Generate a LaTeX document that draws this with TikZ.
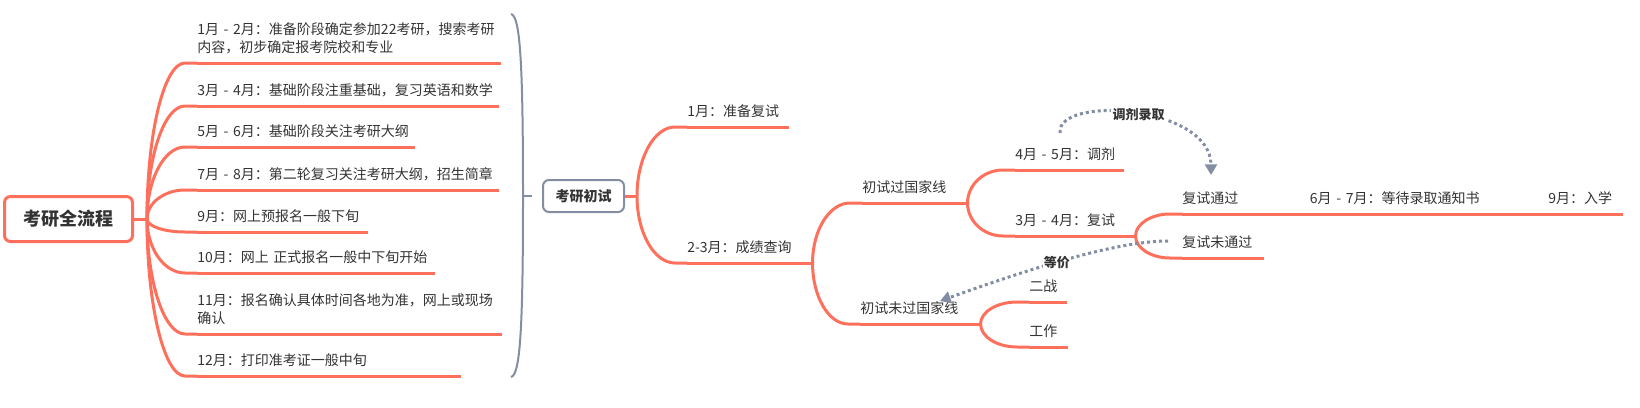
\documentclass[tikz,border=0pt]{standalone}
\usepackage{fontspec}
\setmainfont{Noto Sans CJK SC}
\usepackage{xcolor}
\definecolor{coral}{RGB}{255, 112, 92}
\definecolor{slate}{RGB}{131, 142, 162}
\definecolor{ink}{RGB}{51, 51, 51}
\usepackage{tikz}
\usetikzlibrary{arrows.meta,positioning,calc}

\begin{document}
\begin{tikzpicture}[
  x=0.75pt, y=-0.75pt,
  rootbox/.style={draw=coral, fill=white, rounded corners=4.5pt, line width=2.25pt, minimum width=96pt, minimum height=33.75pt, text=ink, font=\fontsize{13.5}{16}\selectfont\bfseries},
  summbox/.style={draw=slate, fill=white, rounded corners=4.5pt, line width=1.5pt, minimum width=60.75pt, minimum height=24pt, text=ink, font=\fontsize{10.5}{13}\selectfont\bfseries},
  topic/.style={anchor=south west, inner xsep=0pt, inner ysep=4pt, align=left, text=ink, font=\fontsize{10.5}{13.5}\selectfont, execute at end node=\strut},
  underline/.style={line width=2.25pt, draw=coral},
  stub/.style={line width=2.25pt, draw=coral},
  branch/.style={line width=2.25pt, draw=coral, to path={.. controls ($(\tikztostart)!0.55!(\tikztostart|-\tikztotarget)$) and ($0.45*(\tikztotarget)+0.55*(\tikztostart|-\tikztotarget)+(-5.4,0)$) .. ($(\tikztotarget)+(-12,0)$) -- (\tikztotarget)}},
  brace/.style={draw=slate, line width=1.5pt},
  relation/.style={draw=slate, line width=2.25pt, dash pattern=on 2.25pt off 2.25pt, -{Triangle[length=8pt, width=9pt]}},
  rellabel/.style={fill=white, inner sep=1pt, text=ink, font=\fontsize{9.75}{12}\selectfont\bfseries}
]
\useasboundingbox (0,0) rectangle (1640,407);

% root and the year plan
\node[rootbox] (root) at (68.5,219) {考研全流程};
\coordinate (J0) at (147,219);
\node[topic, text width=227.25pt] (plan1) at (197,63) {1月 - 2月：准备阶段确定参加22考研，搜索考研\\内容，初步确定报考院校和专业};
\node[topic, text width=225.75pt] (plan2) at (197,106) {3月 - 4月：基础阶段注重基础，复习英语和数学};
\node[topic, text width=162.75pt] (plan3) at (197,147) {5月 - 6月：基础阶段关注考研大纲};
\node[topic, text width=225.75pt] (plan4) at (197,190) {7月 - 8月：第二轮复习关注考研大纲，招生简章};
\node[topic, text width=127.5pt] (plan5) at (197,232) {9月：网上预报名一般下旬};
\node[topic, text width=177.75pt] (plan6) at (197,273) {10月：网上 正式报名一般中下旬开始};
\node[topic, text width=228pt] (plan7) at (197,334) {11月：报名确认具体时间各地为准，网上或现场\\确认};
\node[topic, text width=197.25pt] (plan8) at (197,376) {12月：打印准考证一般中旬};

\draw[stub] (root.east) -- (J0);
\foreach \p in {plan1,plan2,plan3,plan4,plan5,plan6,plan7,plan8}
  \draw[branch] (J0) to (\p.south west);

% summary brace
\draw[brace] (511,14) .. controls (520,16) and (523,60) .. (523,196) coordinate (bmid)
  .. controls (523,332) and (520,375) .. (511,377);
\node[summbox] (chushi) at (583.5,196) {考研初试};
\coordinate (btick) at ($(chushi.west)+(-10,0)$);
\draw[brace] (bmid) -- (btick);

% after the first exam
\coordinate (J1) at ($(chushi.east)+(12,0)$);
\node[topic, text width=75.75pt] (prep) at (687,127) {1月：准备复试};
\node[topic, text width=93.75pt] (score) at (687,263) {2-3月：成绩查询};
\node[topic, text width=78.75pt] (pass) at (862,203) {初试过国家线};
\node[topic, text width=90pt] (fail) at (860,324) {初试未过国家线};
\node[topic, text width=81pt] (adjust) at (1015,170) {4月 - 5月：调剂};
\node[topic, text width=90pt] (retest) at (1015,236) {3月 - 4月：复试};
\node[topic, text width=86.25pt] (rpass) at (1182,214) {复试通过};
\node[topic, text width=169.5pt, right=9pt of rpass.south east, anchor=south west] (notice) {6月 - 7月：等待录取通知书};
\node[topic, text width=55.5pt, right=9pt of notice.south east, anchor=south west] (enroll) {9月：入学};
\node[topic, text width=60.75pt] (rfail) at (1182,258) {复试未通过};
\node[topic, text width=27.75pt] (again) at (1029,302) {二战};
\node[topic, text width=28.5pt] (job) at (1029,347) {工作};

\draw[stub] (chushi.east) -- (J1);
\draw[branch] (J1) to (prep.south west);
\draw[branch] (J1) to (score.south west);
\draw[branch] (score.south east) to (pass.south west);
\draw[branch] (score.south east) to (fail.south west);
\draw[branch] (pass.south east) to (adjust.south west);
\draw[branch] (pass.south east) to (retest.south west);
\draw[branch] (retest.south east) to (rpass.south west);
\draw[branch] (retest.south east) to (rfail.south west);
\draw[branch] (fail.south east) to (again.south west);
\draw[branch] (fail.south east) to (job.south west);
\draw[stub] (rpass.south east) -- (notice.south west);
\draw[stub] (notice.south east) -- (enroll.south west);

\foreach \n in {plan1,plan2,plan3,plan4,plan5,plan6,plan7,plan8,prep,score,pass,fail,adjust,retest,rpass,notice,enroll,rfail,again,job}
  \draw[underline] (\n.south west) -- (\n.south east);

% relations
\draw[relation] ($(adjust.south west)+(45,-37)$) .. controls +(-4,-38) and +(0,-70) .. ($(rpass.south west)+(29,-39)$)
  node[rellabel, pos=0.52] {调剂录取};
\draw[relation] ($(rfail.south west)+(-14,-17)$) .. controls +(-48,0) and +(100,-36) .. ($(fail.south west)+(80,-23)$)
  node[rellabel, pos=0.57] {等价};
\end{tikzpicture}
\end{document}
